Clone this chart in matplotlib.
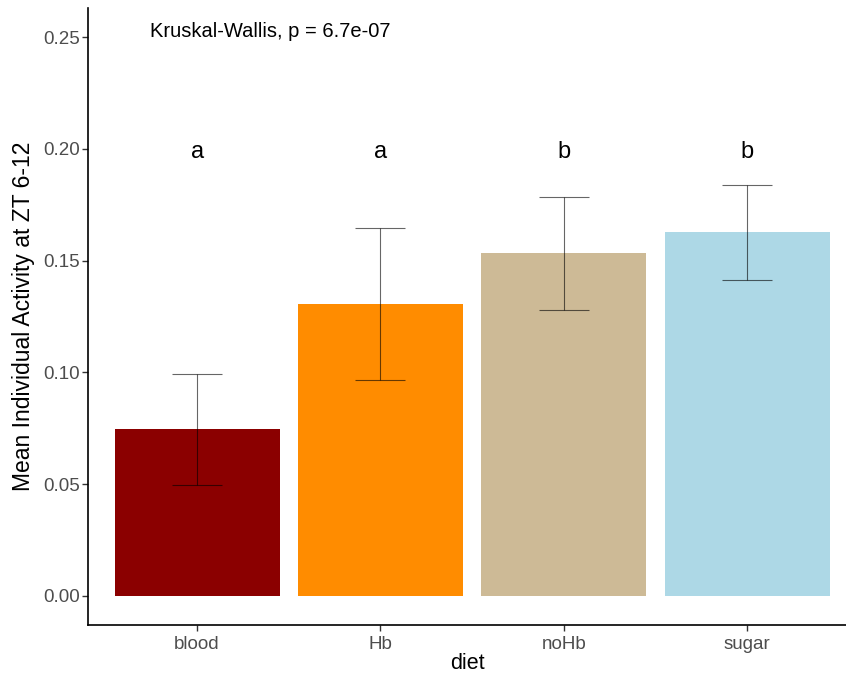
import matplotlib
matplotlib.use("Agg")
import matplotlib.pyplot as plt
import numpy as np

plt.rcParams['font.family'] = ['Liberation Sans', 'DejaVu Sans']

diets = ["blood", "Hb", "noHb", "sugar"]
means = [0.0747, 0.1306, 0.1533, 0.1627]
err_low = [0.0497, 0.0966, 0.1279, 0.1413]
err_high = [0.0993, 0.1645, 0.1783, 0.1837]
letters = ["a", "a", "b", "b"]
colors = ["#8B0000", "#FF8C00", "#CDBA96", "#ADD8E6"]
yticks = [0.00, 0.05, 0.10, 0.15, 0.20, 0.25]
test_label = "Kruskal-Wallis, p = 6.7e-07"

fig = plt.figure(figsize=(8.46, 6.77), dpi=100)
ax = fig.add_axes([88/846, 52/677, 1 - 88/846, (625-8)/677])

x = np.arange(len(diets))
ax.bar(x, means, width=0.9, color=colors, zorder=1)
m = np.array(means)
yerr = np.vstack([m - np.array(err_low), np.array(err_high) - m])
ax.errorbar(x, means, yerr=yerr, fmt='none', ecolor='black', elinewidth=0.8,
            capsize=18, capthick=0.8, alpha=0.6, zorder=2)

for xi, lab in zip(x, letters):
    ax.text(xi, 0.1959, lab, ha='center', va='baseline', fontsize=17, color='black')

ax.text(-0.257, 0.2500, test_label, ha='left', va='baseline', fontsize=14.5, color='black')

ax.set_xlim(-0.595, 3.54)
ax.set_ylim(-0.013, 0.263)
ax.set_xticks(x)
ax.set_xticklabels(diets)
ax.set_yticks(yticks)
ax.set_yticklabels([f"{v:.2f}" for v in yticks])
ax.tick_params(axis='both', colors='#333333', labelcolor='#4D4D4D', labelsize=13.5,
               length=4, width=1.0)
ax.tick_params(axis='y', pad=2)
ax.tick_params(axis='x', pad=4)
for s in ['top', 'right']:
    ax.spines[s].set_visible(False)
for s in ['left', 'bottom']:
    ax.spines[s].set_linewidth(1.2)
ax.set_xlabel("diet", fontsize=15.5, labelpad=0)
ax.set_ylabel("Mean Individual Activity at ZT 6-12", fontsize=16.5, labelpad=6)

fig.savefig("out.png", dpi=100)
